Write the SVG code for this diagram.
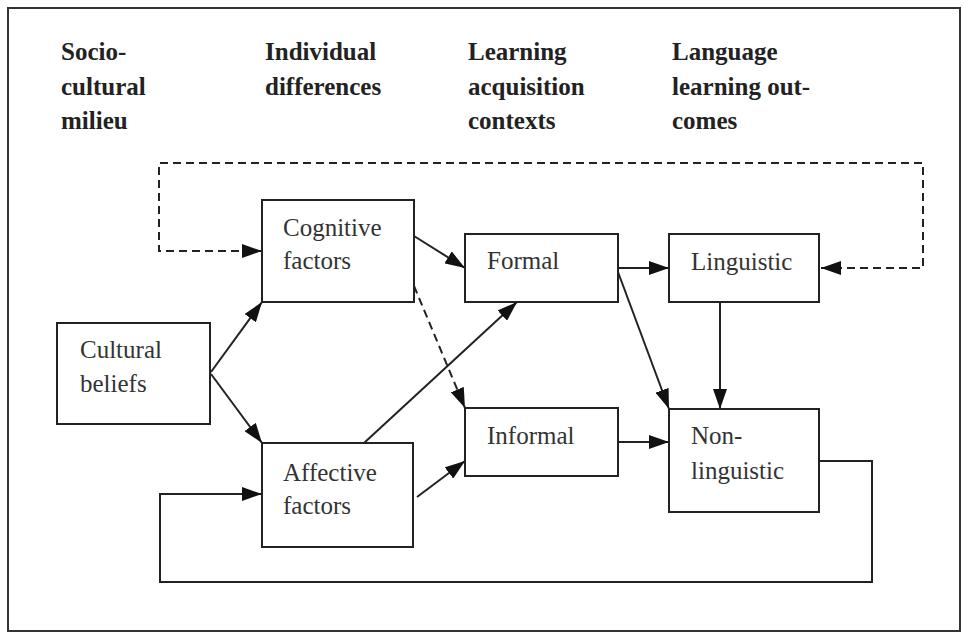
<svg xmlns="http://www.w3.org/2000/svg" width="964" height="633" viewBox="0 0 964 633">
<style>
.frame{fill:#fff;stroke:#333;stroke-width:2}
.box{fill:#fff;stroke:#222;stroke-width:2}
.hdr{font-family:"Liberation Serif","Times New Roman",serif;font-weight:bold;font-size:25px;fill:#222}
.lbl{font-family:"Liberation Serif","Times New Roman",serif;font-size:25px;fill:#333}
.c{fill:none;stroke:#222;stroke-width:2}
.d{stroke-dasharray:8 5}
</style>
<defs>
<marker id="ah" markerUnits="userSpaceOnUse" markerWidth="20" markerHeight="14" refX="20" refY="7" orient="auto-start-reverse" viewBox="0 0 20 14">
<path d="M0,0 L20,7 L0,14 z" fill="#111"/>
</marker>
</defs>
<rect class="frame" x="8" y="8" width="952" height="623"/>
<g id="headers">
<text class="hdr" x="61" y="60">Socio-</text>
<text class="hdr" x="61" y="95">cultural</text>
<text class="hdr" x="61" y="129">milieu</text>
<text class="hdr" x="265" y="60">Individual</text>
<text class="hdr" x="265" y="95">differences</text>
<text class="hdr" x="468" y="60">Learning</text>
<text class="hdr" x="468" y="95">acquisition</text>
<text class="hdr" x="468" y="129">contexts</text>
<text class="hdr" x="672" y="60">Language</text>
<text class="hdr" x="672" y="95">learning out-</text>
<text class="hdr" x="672" y="129">comes</text>
</g>
<g id="connectors">
<path class="c d" d="M821,268 H923 V163 H159 V251 H262" marker-start="url(#ah)" marker-end="url(#ah)"/>
<path class="c" d="M414,236 L465,268" marker-end="url(#ah)"/>
<path class="c" d="M618,268 H669" marker-end="url(#ah)"/>
<path class="c" d="M618,272 L669,409" marker-end="url(#ah)"/>
<path class="c" d="M720,302 V409" marker-end="url(#ah)"/>
<path class="c" d="M618,442 H669" marker-end="url(#ah)"/>
<path class="c" d="M819,461 H872 V582 H160 V494 H262" marker-end="url(#ah)"/>
<path class="c" d="M211,372 L262,302" marker-end="url(#ah)"/>
<path class="c" d="M211,374 L262,443" marker-end="url(#ah)"/>
<path class="c" d="M364,443 L517,302" marker-end="url(#ah)"/>
<path class="c" d="M417,497 L465,461" marker-end="url(#ah)"/>
<path class="c d" d="M414,286 L465,408" marker-end="url(#ah)"/>
</g>
<g id="cognitive"><rect class="box" x="262" y="200" width="152" height="102"/><text class="lbl" x="283" y="236">Cognitive</text><text class="lbl" x="283" y="269">factors</text></g>
<g id="formal"><rect class="box" x="465" y="234" width="153" height="68"/><text class="lbl" x="487" y="269">Formal</text></g>
<g id="cultural"><rect class="box" x="57" y="323" width="153" height="101"/><text class="lbl" x="80" y="358">Cultural</text><text class="lbl" x="80" y="392">beliefs</text></g>
<g id="affective"><rect class="box" x="262" y="443" width="151" height="104"/><text class="lbl" x="283" y="481">Affective</text><text class="lbl" x="283" y="514">factors</text></g>
<g id="informal"><rect class="box" x="465" y="408" width="153" height="68"/><text class="lbl" x="487" y="444">Informal</text></g>
<g id="linguistic"><rect class="box" x="669" y="234" width="150" height="68"/><text class="lbl" x="691" y="270">Linguistic</text></g>
<g id="nonlinguistic"><rect class="box" x="669" y="409" width="150" height="103"/><text class="lbl" x="691" y="444">Non-</text><text class="lbl" x="691" y="479">linguistic</text></g>
</svg>
